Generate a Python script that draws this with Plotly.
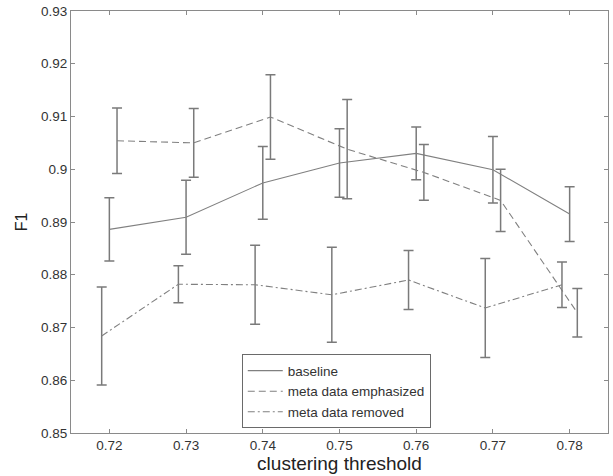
import plotly.graph_objects as go

thresholds = [0.72, 0.73, 0.74, 0.75, 0.76, 0.77, 0.78]

baseline_mean = [0.8886, 0.8909, 0.8974, 0.9012, 0.9030, 0.8999, 0.8915]
baseline_err = [0.0060, 0.0070, 0.0069, 0.0065, 0.0050, 0.0063, 0.0052]

emph_mean = [0.9054, 0.9050, 0.9099, 0.9038, 0.8994, 0.8941, 0.8728]
emph_err = [0.0062, 0.0065, 0.0080, 0.0094, 0.0053, 0.0059, 0.0046]

removed_mean = [0.8684, 0.8782, 0.8781, 0.8762, 0.8790, 0.8737, 0.8781]
removed_err = [0.0093, 0.0035, 0.0075, 0.0090, 0.0056, 0.0094, 0.0043]

series_names = ["baseline", "meta data emphasized", "meta data removed"]
x_offsets = [0.0, 0.001, -0.001]
dashes = ["solid", "7px,4px", "7px,3px,2px,3px"]

xticks = [0.72, 0.73, 0.74, 0.75, 0.76, 0.77, 0.78]
yticks = [0.85, 0.86, 0.87, 0.88, 0.89, 0.9, 0.91, 0.92, 0.93]
ytick_text = ["0.85", "0.86", "0.87", "0.88", "0.89", "0.9", "0.91", "0.92", "0.93"]

line_color = "#808080"
err_color = "#7a7a7a"
axis_color = "#8a8a8a"
font_family = "Liberation Sans, Arial, sans-serif"

fig = go.Figure()
for name, means, errs, off, dash in zip(
    series_names,
    [baseline_mean, emph_mean, removed_mean],
    [baseline_err, emph_err, removed_err],
    x_offsets,
    dashes,
):
    fig.add_trace(
        go.Scatter(
            x=[t + off for t in thresholds],
            y=means,
            mode="lines",
            name=name,
            line=dict(color=line_color, width=1.1, dash=dash),
            error_y=dict(
                type="data",
                array=errs,
                visible=True,
                color=err_color,
                thickness=1.5,
                width=5,
            ),
        )
    )

fig.update_layout(
    width=613,
    height=476,
    margin=dict(l=71, r=4, t=8, b=43),
    paper_bgcolor="white",
    plot_bgcolor="white",
    font=dict(family=font_family, size=13.5, color="#333333"),
    showlegend=True,
    legend=dict(
        x=0.318,
        y=0.011,
        xanchor="left",
        yanchor="bottom",
        bgcolor="white",
        bordercolor="#6a6a6a",
        borderwidth=1,
        font=dict(size=13.5, color="#333333", family=font_family),
        tracegroupgap=0,
        itemwidth=35,
    ),
    xaxis=dict(
        range=[0.715, 0.785],
        tickvals=xticks,
        ticktext=["%.2f" % v for v in xticks],
        ticks="inside",
        ticklen=4,
        tickcolor=axis_color,
        showline=True,
        linecolor=axis_color,
        linewidth=1,
        mirror="ticks",
        showgrid=False,
        zeroline=False,
        title=dict(text="clustering threshold", font=dict(size=19, color="#222222"), standoff=0),
        tickfont=dict(size=13.5, color="#333333"),
    ),
    yaxis=dict(
        range=[0.85, 0.93],
        tickvals=yticks,
        ticktext=ytick_text,
        ticks="inside",
        ticklen=4,
        tickcolor=axis_color,
        showline=True,
        linecolor=axis_color,
        linewidth=1,
        mirror="ticks",
        showgrid=False,
        zeroline=False,
        title=dict(text="F1", font=dict(size=16, color="#222222"), standoff=9),
        tickfont=dict(size=13.5, color="#333333"),
    ),
)

fig.write_html("out.html")
